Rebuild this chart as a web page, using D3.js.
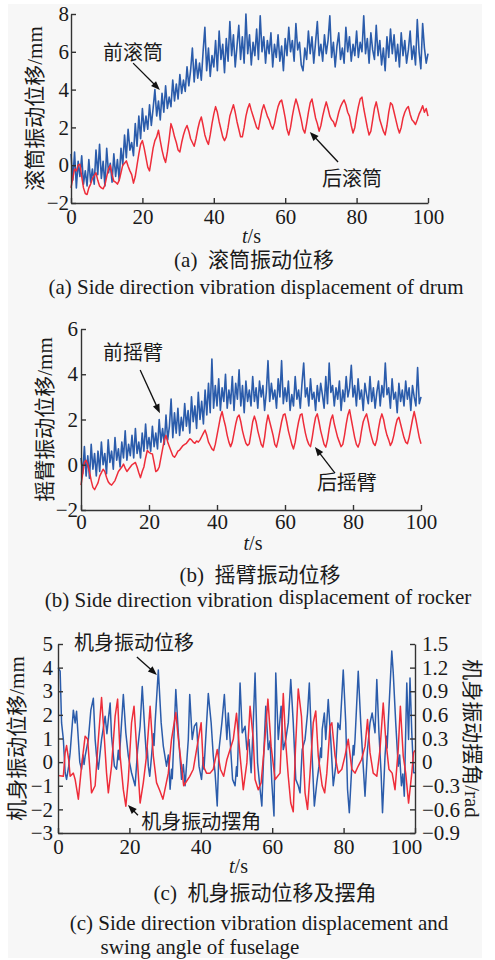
<!DOCTYPE html>
<html>
<head>
<meta charset="utf-8">
<title>Side direction vibration of shearer</title>
<style>
  body { margin: 0; background: #fff; }
  svg text { font-family: "Liberation Serif", "Noto Sans CJK SC", serif; fill: #1a1a1a; }
  .tick text { font-family: "Liberation Serif", serif; font-size: 21px; }
</style>
</head>
<body>
<svg id="fig" width="495" height="960"></svg>

<script src="https://cdnjs.cloudflare.com/ajax/libs/d3/7.8.5/d3.min.js"></script>
<script>
// sampling step (s) of the drum / rocker records
var step = 0.5;
var timeTicks = [0, 20, 40, 60, 80, 100];

// (a) drum displacement, mm
var drumFront = [
  0.6,-0.8,0.7,-1.2,0.2,-0.6,0.5,-1.0,-0.3,-1.1,0.3,-0.9,-0.2,-1.0,0.8,-0.5,1.1,-0.7,0.2,-1.1,
  0.9,-0.4,0.1,-0.9,0.6,-0.6,0.3,-0.8,0.9,0.0,1.6,0.4,1.9,0.8,1.2,0.5,2.2,1.0,2.6,1.4,
  3.0,1.8,2.6,1.9,3.2,2.1,3.0,4.0,2.6,3.4,2.4,3.8,2.8,4.2,3.0,3.6,3.1,4.5,3.4,4.3,
  3.5,4.8,3.8,4.5,3.9,5.2,4.2,5.0,6.2,4.4,5.6,4.6,5.4,4.5,6.0,7.3,5.0,6.2,4.7,5.8,
  5.2,6.6,5.0,7.1,5.6,6.4,4.9,6.7,5.5,7.6,5.8,6.9,5.2,6.3,7.4,5.6,6.8,5.4,8.0,5.9,
  6.9,5.3,6.5,5.8,7.2,5.6,7.9,6.0,6.8,5.4,6.6,5.9,7.0,5.2,6.4,5.7,6.9,5.5,6.3,5.0,
  6.7,5.8,7.3,6.0,6.6,5.5,7.5,6.1,6.5,5.3,5.0,6.2,5.6,7.1,5.9,6.8,5.4,6.5,7.6,5.8,
  6.4,5.5,6.9,5.9,6.6,7.9,5.7,6.5,5.2,6.3,7.0,5.6,6.2,5.4,7.3,6.0,6.8,5.5,6.4,5.8,
  7.1,5.7,6.5,6.0,7.9,5.9,6.7,5.4,7.0,6.1,5.6,7.4,5.8,6.6,5.3,6.2,5.0,6.8,5.7,7.2,
  5.9,6.9,5.5,6.4,5.2,7.0,5.8,6.6,5.4,6.1,7.1,5.6,6.3,5.3,7.7,6.0,5.1,7.5,6.2,5.4,5.9
];
var drumRear = [
  -1.2,-0.7,-0.2,-0.3,0.0,0.05,-0.6,-1.2,-1.5,-1.55,-1.2,-1.0,-0.7,-0.55,-0.4,-0.8,-1.1,-1.2,-1.25,-1.05,
  -0.6,-0.2,0.0,-0.5,-0.85,-0.9,-1.0,-0.8,-0.4,0.0,0.1,0.23,-0.05,-0.3,-0.5,-0.95,-0.6,0.0,0.6,1.1,
  1.3,0.9,0.4,-0.1,-0.3,0.3,0.9,1.3,1.5,1.85,1.3,0.8,0.4,0.15,0.7,1.4,2.2,1.9,1.5,1.2,
  0.8,0.7,1.2,1.6,1.9,2.1,1.8,1.4,1.2,1.0,1.4,1.9,2.3,2.55,2.1,1.6,1.3,1.1,1.6,2.2,
  2.7,3.1,2.8,2.3,1.9,1.5,1.3,1.5,2.0,2.6,2.9,3.2,2.8,2.3,1.9,1.5,1.5,2.0,2.6,3.0,
  3.25,2.9,2.6,2.3,2.0,1.9,2.4,2.9,3.2,2.9,2.6,2.4,2.1,1.9,2.2,2.7,3.1,3.35,3.45,3.0,
  2.5,1.9,1.6,2.0,2.6,3.1,3.5,3.2,2.8,2.4,1.9,1.7,2.2,2.8,3.3,3.5,3.0,2.5,2.2,1.8,
  2.1,2.6,3.0,3.35,3.0,2.6,2.4,2.3,2.05,2.4,2.8,3.1,3.3,3.45,3.2,2.8,2.6,2.1,1.7,2.0,
  2.6,3.1,3.5,3.6,3.0,2.5,2.0,1.6,1.8,2.4,3.0,3.35,2.9,2.4,2.1,1.8,1.6,2.1,2.8,3.3,
  3.2,2.8,2.4,2.0,1.7,2.0,2.5,2.8,3.0,3.1,2.7,2.4,2.3,2.15,2.4,2.7,2.9,3.15,2.8,3.0,2.6
];

// (b) rocker displacement, mm
var rockerFront = [
  0.3,-0.4,0.8,-0.5,0.4,-0.6,0.9,-0.2,0.5,-0.5,0.6,-0.3,1.0,0.0,0.5,-0.4,1.1,0.1,0.6,-0.2,
  1.2,0.2,0.7,-0.1,1.0,0.3,1.5,0.2,0.9,0.4,1.3,0.3,1.6,0.5,1.0,0.3,1.4,0.6,1.8,0.7,
  1.2,0.6,1.7,0.8,1.4,0.7,2.0,1.0,1.6,0.9,2.2,1.1,1.7,2.9,1.2,2.3,1.4,2.5,1.3,2.1,
  1.5,2.7,1.7,2.4,1.4,3.0,1.9,2.6,1.6,3.2,2.0,2.8,1.8,3.3,2.2,3.6,2.3,4.67,2.5,3.5,
  2.6,3.8,2.4,3.4,2.8,4.0,2.5,3.3,2.7,3.9,2.4,3.6,2.9,4.2,2.6,3.5,2.3,3.7,2.8,3.3,
  2.6,3.9,2.8,3.4,2.5,3.7,3.0,3.5,2.4,3.2,4.6,2.8,3.6,2.9,3.3,2.5,3.8,3.0,4.6,2.7,
  3.4,2.8,3.7,2.4,3.1,2.6,3.9,2.9,3.3,2.5,3.6,4.5,3.0,3.4,2.6,3.8,2.9,3.2,2.4,3.5,
  2.8,3.6,3.1,2.5,3.9,2.7,4.5,3.2,3.5,2.6,3.4,2.9,3.7,2.4,3.3,2.8,3.9,3.0,3.4,4.4,
  3.0,3.5,2.6,3.8,2.9,3.3,2.4,3.6,3.1,2.7,3.9,2.8,3.4,2.5,3.2,3.7,2.6,3.5,3.0,4.5,
  3.1,3.4,2.5,3.8,2.9,3.2,2.3,3.6,2.8,3.3,2.6,3.7,2.9,3.4,2.4,3.5,3.0,2.6,4.3,2.7,3.0
];
var rockerRear = [
  -0.9,-0.4,0.1,0.2,0.0,-0.3,-0.7,-1.0,-1.1,-0.95,-0.8,-0.5,-0.35,-0.2,-0.3,-0.55,-0.75,-0.85,-0.9,-0.8,
  -0.7,-0.5,-0.3,-0.2,-0.1,0.03,-0.15,-0.3,-0.2,-0.1,0.0,0.05,0.1,-0.1,-0.35,-0.57,-0.3,-0.1,0.3,0.63,
  0.55,0.5,0.48,0.1,-0.3,-0.25,-0.1,0.3,0.7,1.1,1.3,1.0,0.8,0.6,0.4,0.33,0.45,0.6,0.65,0.75,
  0.85,0.9,0.95,1.05,1.15,1.1,1.0,0.95,1.05,1.0,1.1,1.25,1.4,1.53,1.3,1.0,0.85,0.7,0.63,0.9,
  1.3,1.7,2.1,2.35,2.0,1.7,1.3,1.0,0.8,1.0,1.4,1.8,2.1,2.2,1.9,1.5,1.2,0.95,0.85,0.93,
  1.4,1.9,2.15,1.9,1.5,1.2,0.9,0.78,1.2,1.8,2.2,1.9,1.6,1.3,0.9,0.78,1.1,1.5,1.9,2.2,
  2.25,1.9,1.5,1.2,0.9,0.7,1.0,1.5,1.9,2.2,2.25,1.8,1.4,1.1,0.9,0.8,1.2,1.7,2.1,2.25,
  1.9,1.5,1.2,0.9,0.78,1.1,1.6,2.0,2.2,1.8,1.5,1.2,1.0,0.8,0.9,1.3,1.8,2.2,2.43,2.0,
  1.6,1.2,0.9,0.78,1.0,1.5,1.9,2.1,2.25,1.9,1.5,1.2,0.95,0.85,1.1,1.6,2.0,2.25,2.0,1.6,
  1.3,1.1,0.85,1.0,1.3,1.7,2.0,2.1,1.8,1.5,1.2,1.0,0.93,1.2,1.6,2.0,2.35,2.0,1.6,1.2,0.93
];

// (c) fuselage displacement (mm) and swing angle (rad), read at turning points
var bodyDispT = [
  0,0.6,1,1.5,2,2.4,3,3.4,4.3,4.8, 5.2,5.7,6.1,6.6,7.0,7.3,7.6,8.5,9.2,9.9,
  10.4,10.8,11.3,12.2,13.2,13.7,14.1,14.6,15,15.8, 16.4,16.9,17.1,17.4,18.3,19,19.7,20.6,21.6,22.3,
  23,23.6,24.4,24.8,25.0,25.3,25.7,26.2,26.7,26.9, 27.2,28.1,28.9,29.5,30.4,30.9,31.4,31.8,32.0,32.3,
  33,33.7,34.6,35.1,35.6,36.5,36.9,37.6,38.2,38.8, 39.5,40.2,40.7,40.9,41.2,42.1,42.9,43.5,44,44.6,
  45.1,45.9,46.6,47.3,47.7,48.2,48.9,49.6,50.0,50.2, 50.5,51,51.6,52.4,52.9,53.5,54.1,54.7,55.2,55.9,
  56.6,57.1,57.5,58.2,58.9,59.4,59.9,60.5,61,61.7, 62.5,63.1,63.8,64.5,65.2,65.9,66.6,67.3,67.8,68.4,
  69.2,69.9,70.4,71.1,71.8,72.5,73.1,73.6,73.8,74, 74.6,75,75.7,76.4,77.1,77.8,78.4,79,79.9,80.6,
  81.1,81.6,82.3,82.7,82.9,83.2,84.1,84.8,85.5,86, 86.7,87.4,88,88.8,89.3,89.9,90.5,90.9,91.6,92.0,
  92.2,92.5,93.5,93.9,94.6,95.3,95.7,96.2,96.6,97, 97.7,98.2,98.6,99.1,99.6,100
];
var bodyDisp = [
  4.0,3.85,1.66,0.96,-0.45,-0.73,-0.17,0.4,2.2,1.66, 2.15,0.96,0,-0.3,0.3,-0.1,0.25,0.96,2.2,2.7,
  0.96,0.25,-0.3,0.96,1.94,1.2,1.8,2.5,1.1,-0.17, -0.3,0.5,0.1,0.68,2.86,1.24,0.25,-0.45,-1.0,0.53,
  1.52,3.2,1.1,0.2,0.6,-0.17,-0.6,0.25,1.2,0.7, 1.66,3.9,1.66,0.68,-0.17,0.3,-1.15,-0.3,-0.7,0.4,
  3.07,1.24,-0.73,-0.1,-1.0,0.96,2.86,0.96,1.52,1.66, -0.17,-0.73,0.2,-0.3,0.53,2.9,1.66,0.25,-0.45,-1.86,
  0.53,1.66,2.86,0.96,2.08,0.96,-0.73,-1.0,-0.2,-0.6, 0.82,3.35,1.24,1.52,0.53,0.96,-0.45,1.66,3.77,-0.03,
  -1.15,-1.86,-0.17,2.37,0.53,0.9,-0.87,-2.28,3.77,0.96, 2.37,0.53,0.96,1.66,3.5,1.66,-0.73,-1.0,-1.3,0.53,
  0.96,2.08,3.35,0.53,-1.86,-0.87,-0.17,0.6,0.2,1.38, 2.08,0.96,2.65,0.96,-1.0,-0.17,1.66,1.38,3.9,1.66,
  -1.15,-2.14,-0.17,0.7,0.3,0.96,3.85,1.66,-0.17,-1.44, 0.53,1.66,2.08,1.24,3.5,1.24,-0.45,-2.14,0.25,1.1,
  0.6,1.66,4.7,3.8,1.66,-0.17,0.3,-1.0,-0.5,-1.44, 3.35,0.96,3.56,1.24,-0.45,-0.45
];
var bodyAngleT = [
  0,1.5,2,2.4,3,3.4,4.3,4.8,5.7,6.6, 7.6,8.3,9,9.4,10.4,11.3,12.2,13,13.6,14.1,
  15,16,16.7,17.4,18.3,19,19.7,20.6,21.3,22, 23,23.9,24.8,25.8,26.7,27.6,28.5,29.4,30.9,31.8,
  33,33.7,34.6,35.2,36.9,37.9,39.3,40.1,40.7,41.6, 42.6,43.5,44.6,45.5,46.4,47.3,48.2,49.1,50,51,
  51.9,52.9,53.8,54.7,55.2,56.1,56.9,57.8,58.8,59.7, 60.8,62.2,63.1,63.8,64.5,65.2,65.9,66.5,67.3,68.2,
  69.2,69.9,70.6,71.5,72.2,72.9,74,74.7,75.3,76.2, 76.7,77.6,78.5,79.5,80.4,81.3,82.3,83.2,84.1,85,
  86,86.7,87.4,88.3,89.3,90.2,91.1,91.8,92.7,93.6, 94.4,95.3,95.9,96.7,97.4,98.2,99.1,99.6,100
];
var bodyAngle = [
  -0.17,-0.18,0.12,0.21,0.03,-0.18,-0.14,-0.22,-0.47,-0.05, 0.33,0.29,-0.14,-0.39,-0.30,0.29,0.82,0.29,-0.14,-0.39,
  -0.05,0.58,0.80,0.08,-0.35,-0.56,-0.22,0.50,0.71,0.20, -0.52,-0.26,0.08,0.71,0.08,-0.26,-0.36,-0.47,-0.14,0.29,
  0.63,0.30,-0.05,-0.30,-0.18,-0.09,0.29,0.50,-0.05,-0.14, -0.14,-0.09,0.16,-0.09,-0.18,0.03,0.16,0.29,0.62,0.08,
  -0.35,-0.01,0.71,0.29,-0.22,-0.35,-0.26,0.20,0.80,0.20, -0.22,-0.14,0.87,0.24,-0.18,-0.52,-0.63,0.15,0.93,0.58,
  -0.39,-0.60,-0.14,0.50,0.65,0.08,-0.30,-0.39,-0.14,0.46, 0.50,0.08,-0.14,-0.09,0.08,0.29,-0.09,-0.14,-0.05,0.03,
  0.20,0.54,0.12,-0.14,-0.18,0.16,0.75,0.29,-0.09,-0.14, -0.35,0.16,0.71,0.08,-0.14,-0.52,-0.14,0.12,0.15
];

var blue = "#2b5cab", red = "#ee2d3a";

var svg = d3.select("#fig");
svg.append("rect").attr("x", 8).attr("y", 4).attr("width", 474).attr("height", 954).attr("fill", "#f7f7f7");

function styleAxis(sel) {
  sel.select(".domain").attr("stroke", "#333").attr("stroke-width", 1.4);
  sel.selectAll(".tick line").attr("stroke", "#333").attr("stroke-width", 1.4);
  sel.selectAll(".tick text").attr("fill", "#1a1a1a");
}

function arrow(g, x1, y1, x2, y2) {
  var a = Math.atan2(y2 - y1, x2 - x1), L = 9, w = 3.5;
  g.append("line").attr("x1", x1).attr("y1", y1)
    .attr("x2", x2 - (L - 1) * Math.cos(a)).attr("y2", y2 - (L - 1) * Math.sin(a))
    .attr("stroke", "#111").attr("stroke-width", 1.3);
  var bx = x2 - L * Math.cos(a), by = y2 - L * Math.sin(a);
  g.append("polygon")
    .attr("points", [[x2, y2], [bx + w * Math.sin(a), by - w * Math.cos(a)], [bx - w * Math.sin(a), by + w * Math.cos(a)]].join(" "))
    .attr("fill", "#111");
}

function label(g, x, y, txt, size) {
  return g.append("text").attr("x", x).attr("y", y).attr("dy", "0.35em")
    .attr("text-anchor", "middle").style("font-size", (size || 20) + "px").text(txt);
}

function tLabel(g, x, y) {
  var t = g.append("text").attr("x", x).attr("y", y).attr("dy", "0.35em")
    .attr("text-anchor", "middle").style("font-size", "20px");
  t.append("tspan").style("font-style", "italic").text("t");
  t.append("tspan").text("/s");
}

// p: panel geometry; series drawn in order given
function panel(p) {
  var g = svg.append("g");
  var x = d3.scaleLinear().domain([0, 100]).range([p.left, p.right]);
  var y = d3.scaleLinear().domain(p.yDomain).range([p.bottom, p.top]);

  p.series.forEach(function(s) {
    var sc = s.right ? p.y2 : y;
    var pts = s.t ? s.v.map(function(v, i) { return [s.t[i], v]; })
                  : s.v.map(function(v, i) { return [i * step, v]; });
    g.append("path").datum(pts)
      .attr("fill", "none").attr("stroke", s.color).attr("stroke-width", s.width || 1.5)
      .attr("stroke-linejoin", "round")
      .attr("d", d3.line().x(function(d) { return x(d[0]); }).y(function(d) { return sc(d[1]); }));
  });

  var xa = g.append("g").attr("transform", "translate(0," + p.bottom + ")")
    .call(d3.axisBottom(x).tickValues(timeTicks).tickSize(-5).tickSizeOuter(0).tickPadding(p.xPad))
    .call(styleAxis);
  if (p.lastShift) xa.selectAll(".tick text").filter(function(d) { return d === 100; }).attr("dx", p.lastShift);
  g.append("g").attr("transform", "translate(" + p.left + ",0)")
    .call(d3.axisLeft(y).tickValues(p.yTicks).tickSize(-5).tickSizeOuter(0).tickPadding(p.yPad))
    .call(styleAxis);

  tLabel(g, (p.left + p.right) / 2 + 2, p.bottom + 33);
  g.append("text").attr("transform", "translate(" + p.yLabelX + "," + y((p.yDomain[0] + p.yDomain[1]) / 2) + ") rotate(-90)")
    .attr("dy", "0.35em").attr("text-anchor", "middle").style("font-size", "21px").text(p.yLabel);

  p.notes.forEach(function(n) {
    label(g, x(n.text[0]), y(n.text[1]), n.label);
    arrow(g, x(n.from[0]), y(n.from[1]), x(n.to[0]), y(n.to[1]));
  });
  return {g: g, x: x, y: y};
}

// (a)
panel({
  left: 71, right: 428, top: 14, bottom: 203, yDomain: [-2, 8], yTicks: [-2, 0, 2, 4, 6, 8],
  xPad: 6.5, yPad: 2, yLabelX: 35, yLabel: "滚筒振动位移/mm",
  series: [{v: drumFront, color: blue, width: 1.6}, {v: drumRear, color: red}],
  notes: [
    {label: "前滚筒", text: [17.4, 5.94], from: [17.4, 5.4], to: [24.9, 3.98]},
    {label: "后滚筒", text: [78.7, -0.73], from: [74.8, 0.17], to: [66.9, 1.76]}
  ]
});
label(svg, 254, 260, "(a)  滚筒振动位移", 21).style("white-space", "pre");
label(svg, 256, 287, "(a) Side direction vibration displacement of drum", 21);

// (b)
panel({
  left: 81, right: 421, top: 329, bottom: 510, yDomain: [-2, 6], yTicks: [-2, 0, 2, 4, 6],
  xPad: 4.5, yPad: 3, yLabelX: 45, yLabel: "摇臂振动位移/mm",
  series: [{v: rockerFront, color: blue, width: 1.6}, {v: rockerRear, color: red}],
  notes: [
    {label: "前摇臂", text: [15.3, 4.94], from: [17.4, 4.19], to: [23.2, 2.28]},
    {label: "后摇臂", text: [78.2, -0.81], from: [74.7, -0.37], to: [68.8, 0.78]}
  ]
});
label(svg, 260, 575, "(b)  摇臂振动位移", 21).style("white-space", "pre");
var capB = label(svg, 258, 600, "", 21);
capB.append("tspan").text("(b) Side direction vibration");
capB.append("tspan").attr("dx", 6).attr("dy", -3).text("displacement of rocker");

// (c)
var angleY = d3.scaleLinear().domain([-0.9, 1.5]).range([833, 644]);
var pc = panel({
  left: 58, right: 415, top: 644, bottom: 833, yDomain: [-3, 5], yTicks: [-3, -2, -1, 0, 1, 2, 3, 4, 5],
  xPad: 6.5, yPad: 5, yLabelX: 17, yLabel: "机身振动位移/mm", y2: angleY, lastShift: -9,
  series: [{t: bodyDispT, v: bodyDisp, color: blue}, {t: bodyAngleT, v: bodyAngle, color: red, right: true}],
  notes: [
    {label: "机身振动位移", text: [21.3, 5.04], from: [22.1, 4.45], to: [27.7, 3.69]},
    {label: "机身振动摆角", text: [40.1, -2.54], from: [22.4, -2.25], to: [19.6, -1.82]}
  ]
});
pc.g.append("g").attr("transform", "translate(415,0)")
  .call(d3.axisRight(angleY).tickValues([-0.9, -0.6, -0.3, 0, 0.3, 0.6, 0.9, 1.2, 1.5])
    .tickFormat(function(d) { return d === 0 ? "0" : d3.format(".1f")(d); })
    .tickSize(-5).tickSizeOuter(0).tickPadding(7))
  .call(styleAxis);
pc.g.append("text").attr("transform", "translate(472," + angleY(0.3) + ") rotate(90)")
  .attr("dy", "0.35em").attr("text-anchor", "middle").style("font-size", "21px").text("机身振动摆角/rad");

label(svg, 265, 893, "(c)  机身振动位移及摆角", 21).style("white-space", "pre");
label(svg, 259, 923, "(c) Side direction vibration displacement and", 21);
label(svg, 200, 947, "swing angle of fuselage", 21);
</script>
</body>
</html>
